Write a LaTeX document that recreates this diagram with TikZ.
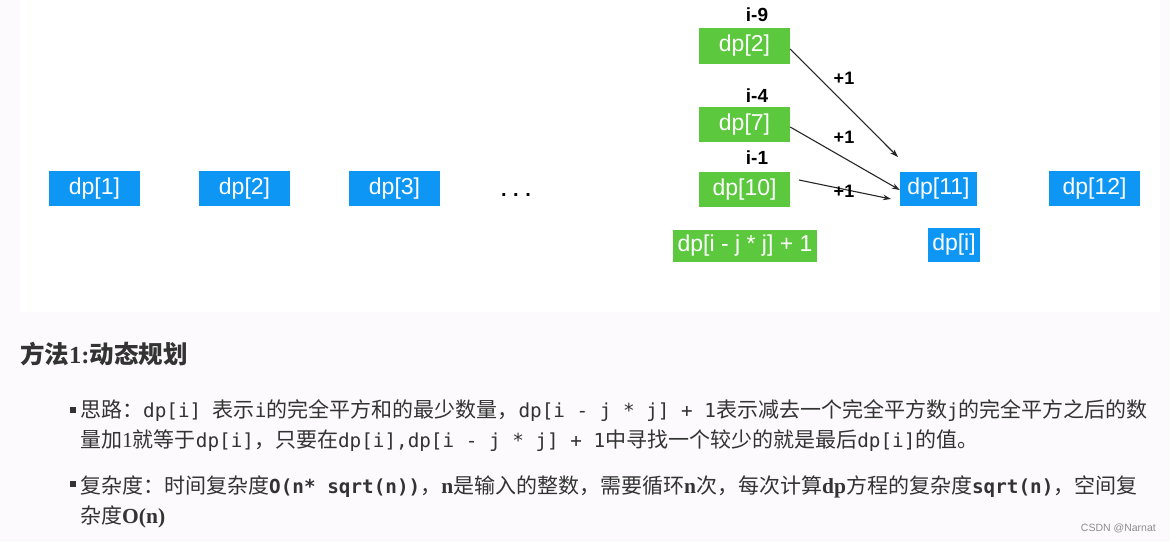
\documentclass[tikz,border=0pt]{standalone}
\usepackage{fontspec}
\setmainfont{Liberation Serif}
\setsansfont{Liberation Sans}
\setmonofont{DejaVu Sans Mono}
\newfontfamily\zhfont{Noto Sans CJK SC}
\usetikzlibrary{arrows.meta}
\definecolor{bxblue}{RGB}{14,150,244}
\definecolor{bxgreen}{RGB}{92,200,62}
\definecolor{txt}{RGB}{51,51,51}
\definecolor{pagebg}{RGB}{252,250,252}
\newcommand{\zhs}[1]{{\zhfont\fontsize{21}{24}\selectfont #1}}
\newcommand{\zhb}[1]{{\zhfont\bfseries\fontsize{24.5}{28}\selectfont #1}}
\newcommand{\mos}[1]{{\ttfamily\fontsize{19.3}{24}\selectfont #1}}
\newcommand{\mob}[1]{{\ttfamily\bfseries\fontsize{19.3}{24}\selectfont #1}}
\newcommand{\ses}[1]{{\rmfamily\fontsize{21.5}{24}\selectfont #1}}
\newcommand{\seb}[1]{{\rmfamily\bfseries\fontsize{21.5}{24}\selectfont #1}}
\tikzset{
  cell/.style={fill=#1, text=white, inner sep=0pt, minimum height=35pt,
    font=\sffamily\fontsize{23}{26}\selectfont},
  lbl/.style={text=black, inner sep=0pt, font=\sffamily\bfseries\fontsize{19}{22}\selectfont},
  plus/.style={text=black, inner sep=0pt, font=\sffamily\bfseries\fontsize{18}{21}\selectfont},
  link/.style={-{Stealth[length=8pt,width=5.5pt]}, line width=1.1pt, black!85},
  line/.style={anchor=base west, inner sep=0pt, text=txt},
  bullet/.style={fill=txt, minimum size=6pt, inner sep=0pt}
}
\begin{document}
\begin{tikzpicture}[x=1pt, y=-1pt]
\useasboundingbox (0,0) rectangle (1170,542);
\fill[pagebg] (0,0) rectangle (1170,542);
\fill[white] (20,0) rectangle (1160,312);
% blue row
\node[cell=bxblue, minimum width=91pt] (d1) at (94.5,188.5) {dp[1]};
\node[cell=bxblue, minimum width=91pt] (d2) at (244.5,188.5) {dp[2]};
\node[cell=bxblue, minimum width=91pt] (d3) at (394.5,188.5) {dp[3]};
\node[inner sep=0pt, font=\sffamily\bfseries\fontsize{20}{22}\selectfont] (dots) at (516,195) {.\,\,.\,\,.};
\node[cell=bxblue, minimum width=77pt, minimum height=34pt] (d11) at (938.5,189) {dp[11]};
\node[cell=bxblue, minimum width=91pt] (d12) at (1094.5,188.5) {dp[12]};
\node[cell=bxblue, minimum width=52pt, minimum height=34pt] (di) at (954,245) {dp[i]};
% green column
\node[cell=bxgreen, minimum width=91pt, minimum height=36pt] (g2) at (744.5,46) {dp[2]};
\node[cell=bxgreen, minimum width=91pt] (g7) at (744.5,124.5) {dp[7]};
\node[cell=bxgreen, minimum width=91pt] (g10) at (744.5,189.5) {dp[10]};
\node[cell=bxgreen, minimum width=144pt, minimum height=32pt] (gf) at (745,245.5) {dp[i - j * j] + 1};
% labels
\node[lbl] (l9) at (757,15) {i-9};
\node[lbl] (l4) at (757,96) {i-4};
\node[lbl] (l1) at (757,158) {i-1};
% arrows
\coordinate (e1) at (898,157);
\coordinate (e3) at (891,199);
\coordinate (s3) at (799,180);
\draw[link] ([yshift=-3pt]g2.east) -- (e1);
\draw[link] ([yshift=-2.5pt]g7.east) -- ([yshift=-1pt]d11.west);
\draw[link] (s3) -- (e3);
\node[plus] (p1) at (844,78) {+1};
\node[plus] (p2) at (844,137) {+1};
\node[plus] (p3) at (844,191) {+1};
% text
\node[line] (title) at (20,363) {\zhb{方法}\seb{\fontsize{24.5}{28}\selectfont 1:}\zhb{动态规划}};
\node[bullet] (b1) at (73,410) {};
\node[bullet] (b2) at (73,484) {};
\node[line] (t1) at (80,417) {\zhs{思路：}\mos{dp[i] }\zhs{表示}\mos{i}\zhs{的完全平方和的最少数量，}\mos{dp[i - j * j] + 1}\zhs{表示减去一个完全平方数}\mos{j}\zhs{的完全平方之后的数}};
\node[line] (t2) at (80,447) {\zhs{量加}\ses{1}\zhs{就等于}\mos{dp[i]}\zhs{，只要在}\mos{dp[i],dp[i - j * j] + 1}\zhs{中寻找一个较少的就是最后}\mos{dp[i]}\zhs{的值。}};
\node[line] (t3) at (80,493) {\zhs{复杂度：时间复杂度}\mob{O(n* sqrt(n))}\zhs{，}\seb{n}\zhs{是输入的整数，需要循环}\seb{n}\zhs{次，每次计算}\seb{dp}\zhs{方程的复杂度}\mob{sqrt(n)}\zhs{，空间复}};
\node[line] (t4) at (80,523) {\zhs{杂度}\seb{O(n)}};
\node[anchor=base east, inner sep=0pt, text=black!45, font=\sffamily\fontsize{10.5}{12}\selectfont] (wm) at (1156,531) {CSDN @Narnat};
\end{tikzpicture}
\end{document}
